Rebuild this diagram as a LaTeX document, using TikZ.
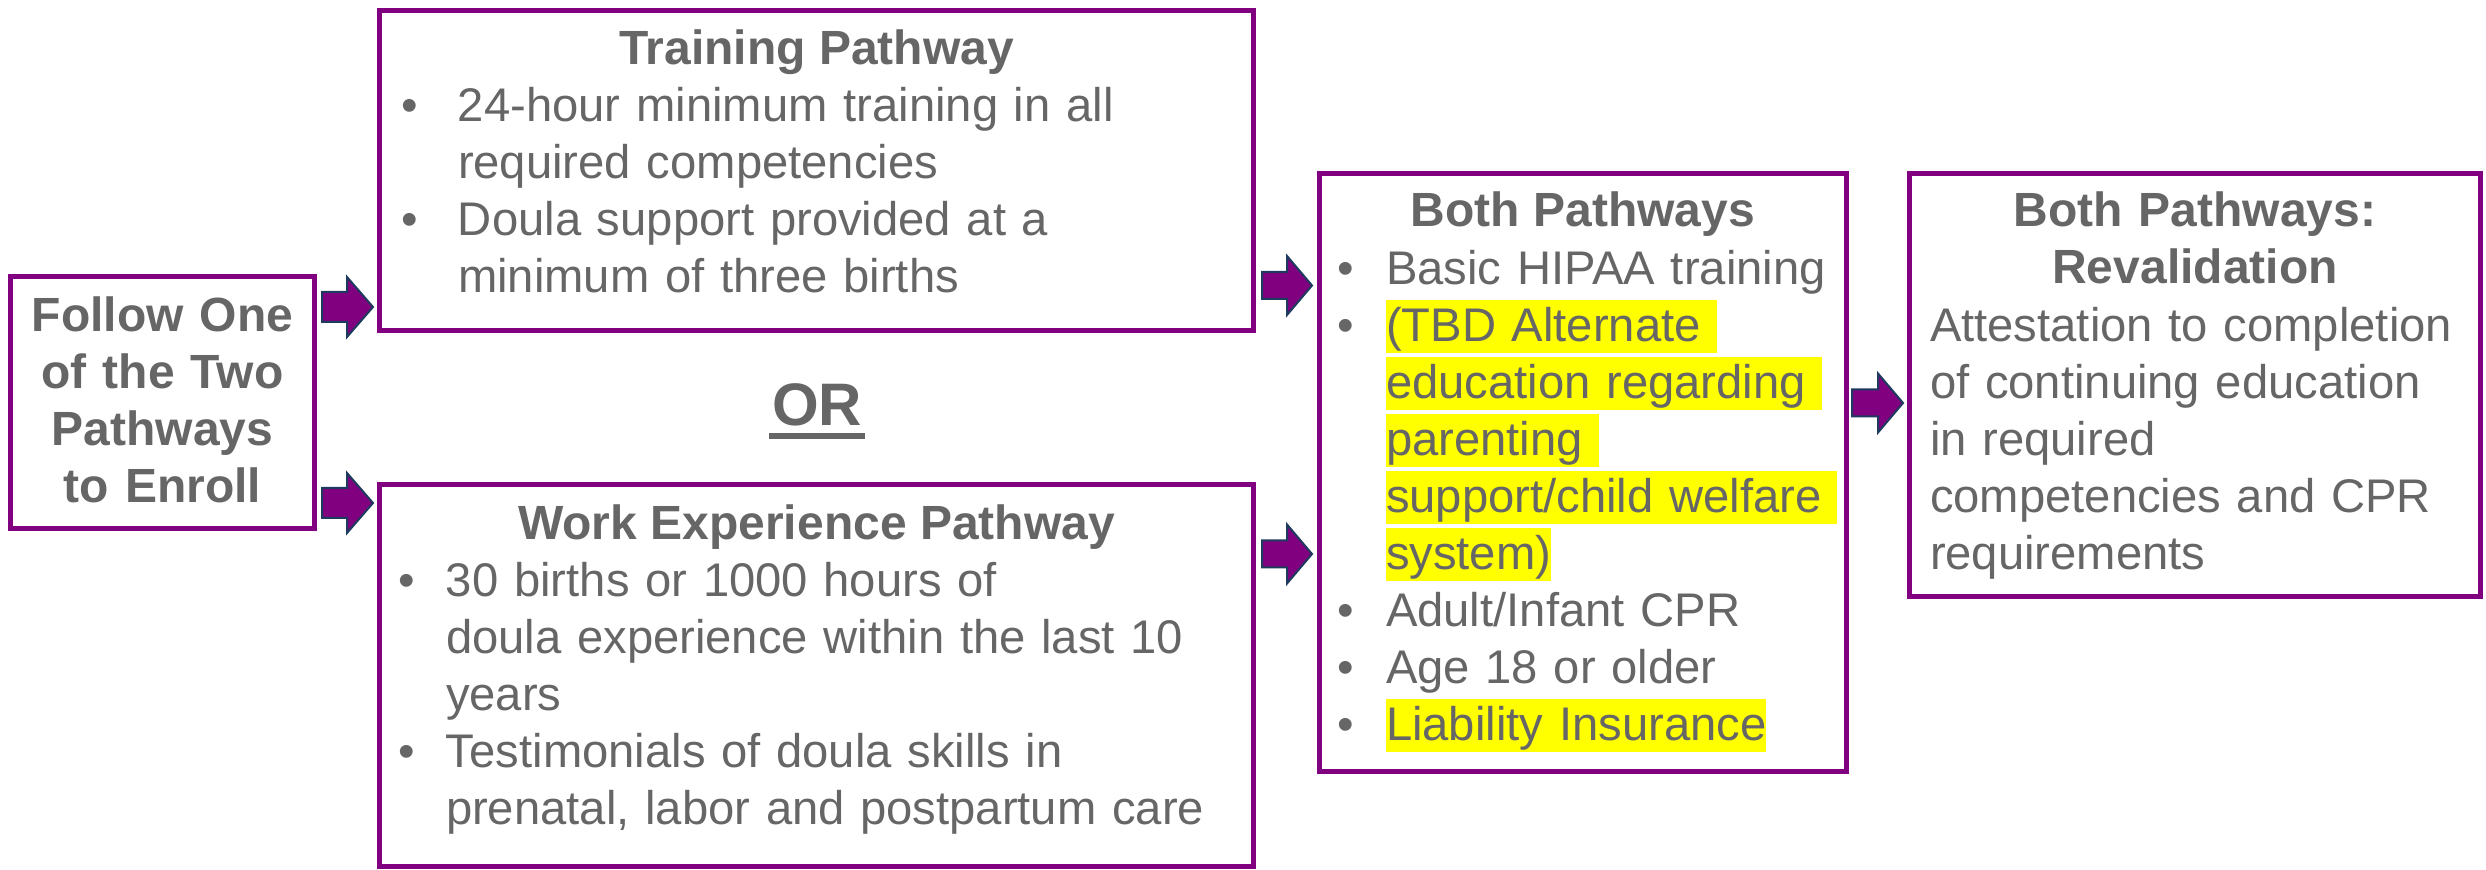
\documentclass[tikz,border=0pt]{standalone}
\usepackage{fontspec}
\setmainfont{Liberation Sans}
\usetikzlibrary{calc}
\definecolor{boxpurple}{HTML}{800080}
\definecolor{arrowedge}{HTML}{1F3A5F}
\definecolor{txtgray}{HTML}{666666}
\definecolor{hlyellow}{HTML}{FFFF00}
\newcommand\hlt[1]{{\setlength{\fboxsep}{0pt}\colorbox{hlyellow}{\rule[-6pt]{0pt}{26.5pt}#1}}}
\newcommand\bul[1]{\hangindent=#1\hangafter=1\makebox[#1][l]{•}}
\newcommand\nl{\hfil\break}
% #1 start, #2 end, #3 half shaft, #4 half head, #5 head length
\newcommand\fatarrow[5]{%
  \draw[fatarr] let \p1=(#1), \p2=(#2) in
    (\x1,{\y1+#3}) -- ({\x2-#5},{\y1+#3}) -- ({\x2-#5},{\y1+#4}) -- (\x2,\y1)
    -- ({\x2-#5},{\y1-#4}) -- ({\x2-#5},{\y1-#3}) -- (\x1,{\y1-#3}) -- cycle;}
\begin{document}
\begin{tikzpicture}[x=0.5pt,y=-0.5pt,
  pbox/.style={draw=boxpurple, line width=2.5pt, inner sep=0pt, outer sep=0pt, fill=white},
  txt/.style={font=\fontsize{23.6pt}{28.5pt}\selectfont, text=txtgray, inner sep=0pt, outer sep=0pt},
  btxt/.style={font=\fontsize{24pt}{28.5pt}\selectfont\bfseries, text=txtgray, inner sep=0pt, outer sep=0pt},
  fatarr/.style={fill=boxpurple, draw=arrowedge, line width=1pt, line join=miter}]
\useasboundingbox (0,0) rectangle (2486,870);
\fill[white] (0,0) rectangle (2486,870);

% boxes
\node[pbox, minimum width=152pt, minimum height=126pt] (b1) at (162.5,402.5) {};
\node[pbox, minimum width=437pt, minimum height=160pt] (b2) at (816.5,170.5) {};
\node[pbox, minimum width=437pt, minimum height=191pt] (b3) at (816.5,675.5) {};
\node[pbox, minimum width=263.5pt, minimum height=299pt] (b4) at (1583,472.5) {};
\node[pbox, minimum width=285.5pt, minimum height=211.5pt] (b5) at (2195,385) {};

% box 1 text
\node[btxt, anchor=base, text width=150pt] (t1) at (162.5,332)
  {\centering Follow One\\of the Two\\Pathways\\to Enroll\par};

% training
\node[btxt, anchor=base] (t2h) at (816.5,65) {Training Pathway};
\node[txt, anchor=base west, text width=400pt] (t2b) at (401,122)
  {\bul{28.5pt}24-hour minimum training in all\nl required competencies\par
   \bul{28.5pt}Doula support provided at a\nl minimum of three births\par};

% OR
\node[btxt, font=\fontsize{30pt}{36pt}\selectfont\bfseries, anchor=base] (or) at (817,426) {OR};
\fill[txtgray] ($(or.base west)+(-3,7)$) rectangle ($(or.base east)+(3,13)$);

% work experience
\node[btxt, anchor=base] (t3h) at (816.5,539.5) {Work Experience Pathway};
\node[txt, anchor=base west, text width=420pt] (t3b) at (398,597)
  {\bul{24pt}30 births or 1000 hours of\nl doula experience within the last 10\nl years\par
   \bul{24pt}Testimonials of doula skills in\nl prenatal, labor and postpartum care\par};

% both pathways
\node[btxt, anchor=base] (t4h) at (1583,227) {Both Pathways};
\node[txt, anchor=base west, text width=252pt] (t4b) at (1337,284.5)
  {\bul{24.5pt}Basic HIPAA training\par
   \bul{24.5pt}\hlt{(TBD Alternate\ }\nl\hlt{education regarding\ }\nl\hlt{parenting\ }\nl\hlt{support/child welfare\ }\nl\hlt{system)}\par
   \bul{24.5pt}Adult/Infant CPR\par
   \bul{24.5pt}Age 18 or older\par
   \bul{24.5pt}\hlt{Liability Insurance}\par};

% revalidation
\node[btxt, anchor=base, text width=280pt] (t5h) at (2195,226.7)
  {\centering Both Pathways:\\Revalidation\par};
\node[txt, anchor=base west, text width=270pt] (t5b) at (1930,341.7)
  {Attestation to completion\\of continuing education\\in required\\competencies and CPR\\requirements\par};

% arrows
\coordinate (a1s) at (322,307);   \coordinate (a1e) at (373,307);
\coordinate (a2s) at (322,503);   \coordinate (a2e) at (373,503);
\coordinate (a3s) at (1262,285.5); \coordinate (a3e) at (1312,285.5);
\coordinate (a4s) at (1262,554);  \coordinate (a4e) at (1312,554);
\coordinate (a5s) at (1852,403);  \coordinate (a5e) at (1903,403);
\fatarrow{a1s}{a1e}{7.5pt}{15pt}{13pt}
\fatarrow{a2s}{a2e}{7.5pt}{15pt}{13pt}
\fatarrow{a3s}{a3e}{6.75pt}{14.75pt}{12.5pt}
\fatarrow{a4s}{a4e}{6.75pt}{14.75pt}{12.5pt}
\fatarrow{a5s}{a5e}{6.75pt}{14.75pt}{12.5pt}
\end{tikzpicture}
\end{document}
